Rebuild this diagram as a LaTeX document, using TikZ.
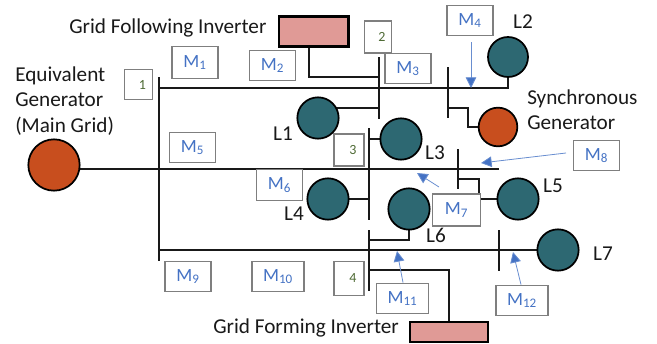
\documentclass[tikz,border=0pt]{standalone}
\usepackage{fontspec}
\setmainfont{Carlito}
\usetikzlibrary{arrows.meta,backgrounds}
\definecolor{gen}{HTML}{C84E1E}
\definecolor{load}{HTML}{2D6872}
\definecolor{inv}{HTML}{E09A96}
\definecolor{mblue}{HTML}{4472C4}
\definecolor{numgreen}{HTML}{4F6B35}
\definecolor{boxgray}{HTML}{7F7F7F}
\tikzset{
  wire/.style={line width=1.6pt,black!90},
  loadc/.style={circle,draw=black,line width=1.3pt,fill=load,minimum size=31pt,inner sep=0pt},
  genc/.style={circle,draw=black,line width=1.3pt,fill=gen,inner sep=0pt},
  invbox/.style={draw=black,fill=inv,inner sep=0pt},
  mbox/.style={draw=boxgray,line width=0.9pt,fill=white,inner sep=0pt,text=mblue,font=\fontsize{14}{16}\selectfont},
  numbox/.style={draw=boxgray,line width=0.9pt,fill=white,inner sep=0pt,text=numgreen,font=\fontsize{10.5}{12}\selectfont},
  lbl/.style={inner sep=0pt,font=\fontsize{15.9}{19}\selectfont,text=black!90},
  marrow/.style={draw=mblue!80,line width=0.6pt,-{Triangle[length=8pt,width=8pt,fill=mblue]}},
}
\newcommand{\mm}[1]{M\textsubscript{#1}}
\newcommand{\nudge}{\hspace{6pt}}
\begin{document}
\begin{tikzpicture}[x=0.75pt,y=-0.75pt]
\useasboundingbox (0,0) rectangle (657,343);
% bus bar ends
\coordinate (b1t) at (159,77);  \coordinate (b1b) at (159,261);
\coordinate (b2t) at (379,57);  \coordinate (b2b) at (379,119);
\coordinate (b2a) at (379,88);  \coordinate (b2c) at (379,77);  \coordinate (b2d) at (379,108);
\coordinate (b3t) at (369,128); \coordinate (b3b) at (369,220);
\coordinate (b4t) at (369,230); \coordinate (b4b) at (369,291);
\coordinate (b5t) at (448,67);  \coordinate (b5b) at (448,118);
\coordinate (b6t) at (458,149); \coordinate (b6b) at (458,189);
\coordinate (b7t) at (499,230); \coordinate (b7b) at (499,271);
\coordinate (h1) at (159,88);   \coordinate (h3e) at (499,169); \coordinate (h4) at (159,250);
% machines
\node[genc,minimum size=38.5pt] (eqgen) at (54,165) {};
\node[genc,minimum size=29pt] (syn) at (498,127) {};
\node[loadc] (L1) at (318,118) {};
\node[loadc,minimum size=30pt] (L2) at (508,57) {};
\node[loadc] (L3) at (401,139) {};
\node[loadc] (L4) at (328,199) {};
\node[loadc] (L5) at (518,199) {};
\node[loadc] (L6) at (409,209) {};
\node[loadc] (L7) at (558,250) {};
\node[invbox,line width=2pt,minimum width=52pt,minimum height=22.5pt] (gfl) at (313.5,31.5) {};
\node[invbox,line width=1.5pt,minimum width=59pt,minimum height=15pt] (gfm) at (449,331.5) {};
% wires
\begin{pgfonlayer}{background}
\draw[wire] (b1t) -- (b1b);
\draw[wire] (b2t) -- (b2b);
\draw[wire] (b3t) -- (b3b);
\draw[wire] (b4t) -- (b4b);
\draw[wire] (b5t) -- (b5b);
\draw[wire] (b6t) -- (b6b);
\draw[wire] (b7t) -- (b7b);
\draw[wire] (h1) -| (L2.center);
\draw[wire] (eqgen.center |- h3e) -- (h3e);
\draw[wire] (h4) -- (L7.center);
\draw[wire] (gfl.south -| 309,47) |- (b2c);
\draw[wire] (L1.center |- b2d) -- (b2d);
\draw[wire] (b5t |- 0,108) -- (468,108) |- (syn.center);
\draw[wire] (b3t |- L3) -- (L3.center);
\draw[wire] (b3t |- L4) -- (L4.center);
\draw[wire] (b6t |- 0,179) -- (479,179) -- (479,199) -- (L5.center);
\draw[wire] (L6.center) |- (b4t |- 0,240);
\draw[wire] (b4t |- 0,270) -| (gfm.north);
\end{pgfonlayer}
% measurement boxes
\node[mbox,minimum width=34.5pt,minimum height=24.5pt] (M1) at (195,62.5) {\mm{1}};
\node[mbox,minimum width=34pt,minimum height=23pt] (M2) at (272.5,65.5) {\mm{2}};
\node[numbox,minimum width=20pt,minimum height=24pt] (N2) at (378,37) {\nudge 2};
\node[mbox,minimum width=34.5pt,minimum height=23pt] (M3) at (408,68.5) {\mm{3}};
\node[mbox,minimum width=34.5pt,minimum height=23pt] (M4) at (470,20.5) {\mm{4}};
\node[mbox,minimum width=34.5pt,minimum height=23pt] (M5) at (192.5,147.5) {\mm{5}};
\node[mbox,minimum width=34pt,minimum height=23pt] (M6) at (279.5,185) {\mm{6}};
\node[mbox,minimum width=36.5pt,minimum height=24pt] (M7) at (456.5,210) {\mm{7}\hspace{6pt}};
\node[mbox,minimum width=35pt,minimum height=23pt] (M8) at (596.5,155.5) {\mm{8}};
\node[mbox,minimum width=34.5pt,minimum height=23pt] (M9) at (188,276.5) {\mm{9}};
\node[mbox,minimum width=39pt,minimum height=23pt] (M10) at (278,276.5) {\mm{10}};
\node[mbox,minimum width=39pt,minimum height=23pt] (M11) at (402.5,298.5) {\mm{11}};
\node[mbox,minimum width=39pt,minimum height=23pt] (M12) at (522,300.5) {\mm{12}\hspace{4pt}};
\node[numbox,minimum width=21.5pt,minimum height=22pt] (N1) at (138.5,84.5) {\nudge 1};
\node[numbox,minimum width=22.5pt,minimum height=24pt] (N3) at (349,150) {\nudge 3};
\node[numbox,minimum width=22.5pt,minimum height=26pt] (N4) at (349,278.5) {\nudge 4};
% arrows
\coordinate (a4) at (471,42);   \coordinate (t4) at (471,88);
\coordinate (a8) at (566,153);  \coordinate (t8) at (481,163);
\coordinate (a7) at (439,187);  \coordinate (t7) at (417,173);
\draw[marrow] (a4) -- (t4);
\draw[marrow] (a8) -- (t8);
\draw[marrow] (a7) -- (t7);
\draw[marrow] (M11.north -| 403,283) -- (397,251);
\draw[marrow] (M12.north -| 521,285) -- (513,252);
% labels
\node[lbl,anchor=west] (tGFL) at (69,28) {Grid Following Inverter};
\node[lbl,anchor=west] (tGFM) at (213,328) {Grid Forming Inverter};
\node[lbl,anchor=west,align=left] (tEq) at (15,101) {Equivalent\\Generator\\(Main Grid)};
\node[lbl,anchor=west,align=left] (tSyn) at (527,110) {Synchronous\\Generator};
\node[lbl] (tL1) at (283,134) {L1};
\node[lbl] (tL2) at (523,22) {L2};
\node[lbl] (tL3) at (435,153) {L3};
\node[lbl] (tL4) at (294,214) {L4};
\node[lbl] (tL5) at (553,186) {L5};
\node[lbl] (tL6) at (436,235) {L6};
\node[lbl] (tL7) at (603,254) {L7};
\end{tikzpicture}
\end{document}
